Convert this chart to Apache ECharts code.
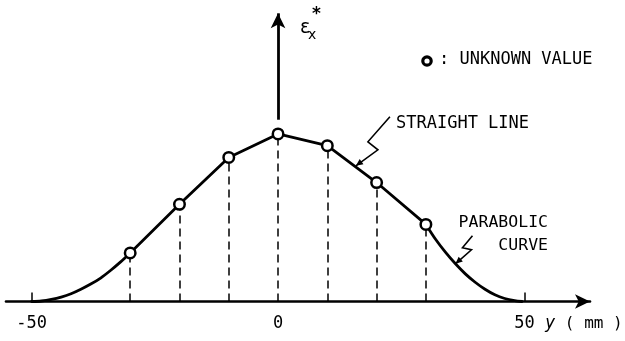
<!DOCTYPE html>
<html>
<head>
<meta charset="utf-8">
<script src="https://cdn.jsdelivr.net/npm/echarts@6/dist/echarts.min.js"></script>
<style>
  html, body { margin: 0; padding: 0; background: #fff; }
  #chart { width: 625px; height: 341px; }
</style>
</head>
<body>
<div id="chart"></div>
<script>
// Strain distribution across the width y (mm); circles are the unknown values.
const positions = [-30, -20, -10, 0, 10, 20, 30];
const unknownValues = [0.29, 0.58, 0.86, 1.00, 0.93, 0.71, 0.46];
// Parabolic end segments (y in mm, relative strain)
const leftCurveY = [-50, -48, -46, -44, -42, -40, -38, -36, -34, -32, -30];
const leftCurveV = [0, 0.003, 0.012, 0.026, 0.046, 0.073, 0.104, 0.14, 0.185, 0.235, 0.29];
const rightCurveY = [30, 32, 34, 36, 38, 40, 42, 44, 46, 48, 49.5];
const rightCurveV = [0.46, 0.37, 0.293, 0.225, 0.165, 0.115, 0.073, 0.04, 0.018, 0.005, 0];
const xLabelValues = [-50, 0, 50];
const xTickValues = [-50, 50];
const axisArrowFrom = 1.085;
const axisArrowTo = 1.72;

const FONT = 'DejaVu Sans Mono';
const pair = (xs, vs) => xs.map((x, i) => [x, vs[i]]);

const chart = echarts.init(document.getElementById('chart'), null, { renderer: 'canvas' });

const curveLine = { color: '#000', width: 2.8, join: 'round', cap: 'round' };

const option = {
  animation: false,
  backgroundColor: '#fff',
  grid: { left: 6, right: 35, top: 13, bottom: 39.5, containLabel: false },
  xAxis: {
    type: 'value',
    min: -55.2,
    max: 63.3,
    splitLine: { show: false },
    axisLine: {
      show: true,
      onZero: false,
      symbol: ['none', 'arrow'],
      symbolSize: [11, 15],
      lineStyle: { color: '#000', width: 2.6 }
    },
    axisTick: {
      show: true, inside: true, length: 9,
      customValues: xTickValues,
      lineStyle: { color: '#000', width: 1.5 }
    },
    axisLabel: {
      show: true,
      customValues: xLabelValues,
      color: '#000', fontFamily: FONT, fontSize: 17, margin: 14
    }
  },
  yAxis: {
    type: 'value', min: 0, max: 1.722, show: false
  },
  series: [
    {
      name: 'straight',
      type: 'line',
      data: pair(positions, unknownValues),
      symbol: 'none',
      lineStyle: curveLine,
      z: 3,
      markLine: {
        silent: true,
        symbol: ['none', 'arrow'],
        symbolSize: [11, 15],
        label: { show: false },
        lineStyle: { color: '#000', width: 2.8, type: 'solid' },
        data: [[{ coord: [0, axisArrowFrom] }, { coord: [0, axisArrowTo] }]]
      }
    },
    {
      name: 'leftParabola',
      type: 'line',
      data: pair(leftCurveY, leftCurveV),
      smooth: 0.3,
      symbol: 'none',
      lineStyle: curveLine,
      z: 3
    },
    {
      name: 'rightParabola',
      type: 'line',
      data: pair(rightCurveY, rightCurveV),
      smooth: 0.3,
      symbol: 'none',
      lineStyle: curveLine,
      z: 3
    },
    {
      name: 'unknown',
      type: 'scatter',
      data: pair(positions, unknownValues),
      symbol: 'circle',
      symbolSize: 10.5,
      itemStyle: { color: '#fff', borderColor: '#000', borderWidth: 2.5, opacity: 1 },
      z: 6,
      markLine: {
        silent: true,
        symbol: ['none', 'none'],
        label: { show: false },
        lineStyle: { color: '#000', width: 1.5, type: [8, 5] },
        data: positions.map((x, i) => [{ coord: [x, 0] }, { coord: [x, unknownValues[i]] }])
      }
    }
  ]
};
chart.setOption(option);

// Annotation leaders: zigzag pointers ending on the curve
function leader(tipX, tipV, pts) {
  const tip = chart.convertToPixel({ gridIndex: 0 }, [tipX, tipV]);
  const abs = pts.map(p => [tip[0] + p[0], tip[1] + p[1]]);
  abs.push(tip);
  const n = abs.length;
  const a = abs[n - 2], b = abs[n - 1];
  const ang = Math.atan2(b[1] - a[1], b[0] - a[0]);
  const L = 7, W = 3.2;
  const head = [
    b,
    [b[0] - L * Math.cos(ang) + W * Math.sin(ang), b[1] - L * Math.sin(ang) - W * Math.cos(ang)],
    [b[0] - L * Math.cos(ang) - W * Math.sin(ang), b[1] - L * Math.sin(ang) + W * Math.cos(ang)]
  ];
  return [
    { type: 'polyline', shape: { points: abs }, style: { stroke: '#000', lineWidth: 1.6, fill: null }, z: 10 },
    { type: 'polygon', shape: { points: head }, style: { fill: '#000' }, z: 10 }
  ];
}

const txt = (x, y, s, opt) => Object.assign({
  type: 'text', x: x, y: y, z: 10,
  style: Object.assign({ text: s, fill: '#000', font: '17px "' + FONT + '"', textAlign: 'left', textVerticalAlign: 'middle' }, opt || {})
});

const graphics = [].concat(
  leader(15.8, 0.81, [[34, -49], [12, -24], [22, -16]]),
  leader(36, 0.225, [[17, -28], [7, -16], [16, -14]]),
  [
    txt(396, 124, 'STRAIGHT LINE'),
    txt(548, 223, 'PARABOLIC', { textAlign: 'right', font: '16.5px "' + FONT + '"' }),
    txt(548, 246, 'CURVE', { textAlign: 'right', font: '16.5px "' + FONT + '"' }),
    { type: 'circle', shape: { cx: 427, cy: 61, r: 4.2 }, style: { fill: '#fff', stroke: '#000', lineWidth: 3.2 }, z: 10 },
    txt(439, 60, ': UNKNOWN VALUE'),
    txt(300, 28, 'ε', { font: '19px "DejaVu Sans"' }),
    txt(308, 35, 'x', { font: '14px "DejaVu Sans"' }),
    txt(312, 15, '*', { font: 'bold 17px "DejaVu Sans"' }),
    {
      type: 'text', x: 545, y: 324, z: 10,
      style: {
        text: '{i|y} ( mm )', fill: '#000', font: '16px "' + FONT + '"', textVerticalAlign: 'middle',
        rich: { i: { fontStyle: 'italic', fontFamily: FONT, fontSize: 17 } }
      }
    }
  ]
);
chart.setOption({ graphic: { elements: graphics } });
</script>
</body>
</html>
